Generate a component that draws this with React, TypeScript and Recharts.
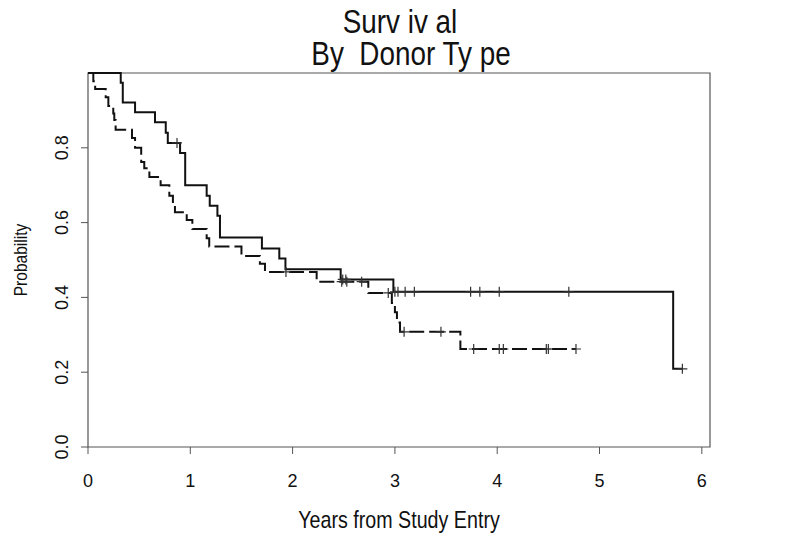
import React from "react";
import {
  LineChart,
  Line,
  XAxis,
  YAxis,
  ReferenceArea,
  Label,
} from "recharts";

// Kaplan-Meier estimates (years, survival, censored?)
const solidTimes = [
  0, 0.32, 0.34, 0.46, 0.655, 0.76, 0.78, 0.87, 0.9, 0.95, 1.16, 1.19, 1.265,
  1.29, 1.7, 1.87, 1.93, 2.47, 2.49, 2.52, 2.985, 3.0, 3.03, 3.1, 3.19, 3.74,
  3.83, 4.02, 4.7, 5.72, 5.81,
];
const solidSurv = [
  1, 0.974, 0.921, 0.895, 0.868, 0.84, 0.813, 0.813, 0.786, 0.7, 0.672, 0.645,
  0.618, 0.56, 0.531, 0.504, 0.475, 0.448, 0.448, 0.448, 0.415, 0.415, 0.415,
  0.415, 0.415, 0.415, 0.415, 0.415, 0.415, 0.209, 0.209,
];
const solidCensored = [
  0, 0, 0, 0, 0, 0, 0, 1, 0, 0, 0, 0, 0, 0, 0, 0, 0, 0, 1, 1, 0, 1, 1, 1, 1, 1,
  1, 1, 1, 0, 1,
];

const dashedTimes = [
  0, 0.052, 0.07, 0.173, 0.199, 0.247, 0.257, 0.27, 0.43, 0.46, 0.52, 0.55,
  0.6, 0.71, 0.795, 0.83, 0.85, 0.965, 1.02, 1.16, 1.185, 1.5, 1.68, 1.73,
  1.935, 2.235, 2.48, 2.53, 2.675, 2.74, 2.935, 2.97, 3.0, 3.02, 3.05, 3.09,
  3.45, 3.64, 3.77, 4.02, 4.06, 4.48, 4.5, 4.77,
];
const dashedSurv = [
  1, 0.978, 0.957, 0.935, 0.912, 0.892, 0.874, 0.848, 0.826, 0.8, 0.762, 0.745,
  0.722, 0.7, 0.672, 0.65, 0.628, 0.607, 0.583, 0.558, 0.536, 0.511, 0.49,
  0.468, 0.468, 0.442, 0.442, 0.442, 0.442, 0.412, 0.412, 0.385, 0.36, 0.333,
  0.308, 0.308, 0.308, 0.262, 0.262, 0.262, 0.262, 0.262, 0.262, 0.262,
];
const dashedCensored = [
  0, 0, 0, 0, 0, 0, 0, 0, 0, 0, 0, 0, 0, 0, 0, 0, 0, 0, 0, 0, 0, 0, 0, 0, 1, 0,
  1, 1, 1, 0, 1, 0, 0, 0, 0, 1, 1, 0, 1, 1, 1, 1, 1, 1,
];

const xTicks = [0, 1, 2, 3, 4, 5, 6];
const yTicks = [0, 0.2, 0.4, 0.6, 0.8];
const titleLines = ["Surv iv al", "By  Donor Ty pe"];

const solidData = solidTimes.map((t, i) => ({
  t,
  s: solidSurv[i],
  c: solidCensored[i],
}));
const dashedData = dashedTimes.map((t, i) => ({
  t,
  s: dashedSurv[i],
  c: dashedCensored[i],
}));

const FONT = "'Liberation Sans', Arial, sans-serif";
const INK = "#111";
// the original titles use a condensed face; squeeze the regular one instead
const NARROW = 0.82;

function CensorMark(props: any) {
  const { cx, cy, payload, index } = props;
  if (!payload || !payload.c) return <g key={`n-${index}`} />;
  return (
    <path
      key={`c-${index}`}
      d={`M${cx - 5},${cy}H${cx + 5}M${cx},${cy - 5}V${cy + 5}`}
      stroke="#333"
      strokeWidth={1.2}
      fill="none"
    />
  );
}

function YTick(props: any) {
  const { x, y, payload } = props;
  return (
    <text
      x={x}
      y={y}
      transform={`rotate(-90, ${x}, ${y})`}
      textAnchor="middle"
      fontSize={18}
      fontFamily={FONT}
      fill={INK}
    >
      {Number(payload.value).toFixed(1)}
    </text>
  );
}

function NarrowText({
  x,
  y,
  size,
  rotate = 0,
  children,
}: {
  x: number;
  y: number;
  size: number;
  rotate?: number;
  children: React.ReactNode;
}) {
  return (
    <text
      transform={`translate(${x}, ${y}) rotate(${rotate}) scale(${NARROW}, 1)`}
      textAnchor="middle"
      fontSize={size}
      fontFamily={FONT}
      fill={INK}
      style={{ whiteSpace: "pre" }}
    >
      {children}
    </text>
  );
}

export default function App() {
  return (
    <div
      style={{
        position: "absolute",
        left: 0,
        top: 0,
        width: 787,
        height: 536,
        background: "#fff",
      }}
    >
      <svg
        width={787}
        height={75}
        style={{ position: "absolute", left: 0, top: 0 }}
      >
        <NarrowText x={400} y={33} size={34}>
          {titleLines[0]}
        </NarrowText>
        <NarrowText x={411} y={65} size={34}>
          {titleLines[1]}
        </NarrowText>
      </svg>
      <LineChart
        width={787}
        height={536}
        margin={{ top: 73, right: 77, bottom: 0, left: 0 }}
      >
        <XAxis
          dataKey="t"
          type="number"
          domain={[0, 6.08]}
          ticks={xTicks}
          allowDataOverflow
          height={89}
          axisLine={false}
          tickSize={7}
          tickMargin={20}
          tickLine={{ stroke: "#555" }}
          tick={{ fontSize: 18, fontFamily: FONT, fill: INK }}
        >
          <Label
            content={(p: any) => {
              const vb = p.viewBox || { x: 88, y: 447, width: 622 };
              return (
                <NarrowText x={vb.x + vb.width / 2} y={vb.y + 81} size={24}>
                  Years from Study Entry
                </NarrowText>
              );
            }}
          />
        </XAxis>
        <YAxis
          dataKey="s"
          type="number"
          domain={[0, 1]}
          ticks={yTicks}
          width={88}
          axisLine={false}
          tickSize={7}
          tickMargin={13}
          tickLine={{ stroke: "#555" }}
          tick={<YTick />}
        >
          <Label
            content={(p: any) => {
              const vb = p.viewBox || { x: 0, y: 73, height: 374 };
              return (
                <NarrowText
                  x={27}
                  y={vb.y + vb.height / 2}
                  size={19}
                  rotate={-90}
                >
                  Probability
                </NarrowText>
              );
            }}
          />
        </YAxis>
        <ReferenceArea
          x1={0}
          x2={6.08}
          y1={0}
          y2={1}
          fill="none"
          stroke="#555"
          strokeWidth={1.2}
        />
        <Line
          data={solidData}
          dataKey="s"
          type="stepAfter"
          stroke={INK}
          strokeWidth={2}
          dot={CensorMark}
          activeDot={false}
          isAnimationActive={false}
        />
        <Line
          data={dashedData}
          dataKey="s"
          type="stepAfter"
          stroke={INK}
          strokeWidth={2}
          strokeDasharray="15 5"
          dot={CensorMark}
          activeDot={false}
          isAnimationActive={false}
        />
      </LineChart>
    </div>
  );
}
